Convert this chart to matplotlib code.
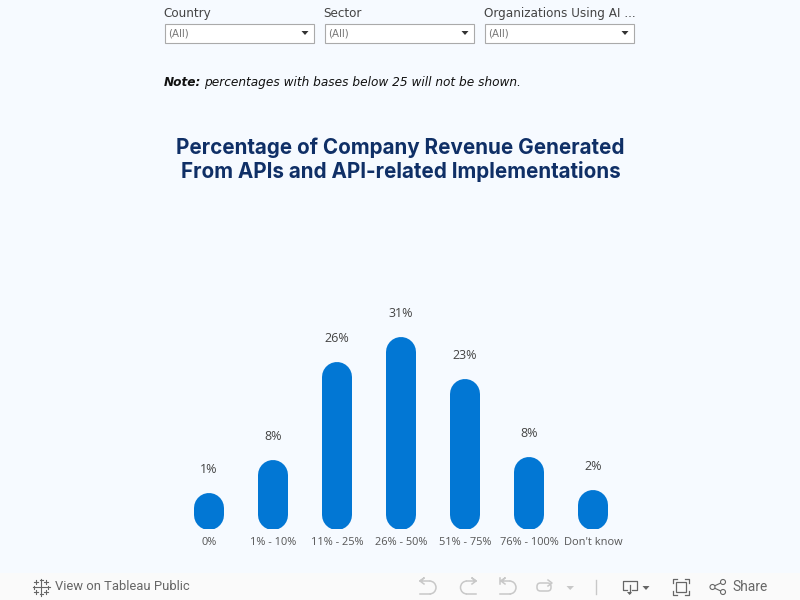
import matplotlib
matplotlib.use("Agg")
import matplotlib.pyplot as plt
from matplotlib.patches import Rectangle, Polygon, Arc, Circle, FancyBboxPatch

categories = ["0%", "1% - 10%", "11% - 25%", "26% - 50%", "51% - 75%", "76% - 100%", "Don't know"]
values = [1.3, 7.5, 26.0, 30.8, 22.8, 8.1, 1.9]
filter_names = ["Country", "Sector", "Organizations Using AI ..."]
filter_values = ["(All)", "(All)", "(All)"]

BG = "#f6faff"
BAR = "#0277d4"
GREY = "#555555"
ICON = "#c8c8c8"
DARK = "#666666"

fig = plt.figure(figsize=(8, 6), dpi=100, facecolor=BG)

# page furniture, drawn in pixel coordinates
page = fig.add_axes([0, 0, 1, 1])
page.set_xlim(0, 800)
page.set_ylim(600, 0)
page.axis("off")

for i, name in enumerate(filter_names):
    x = 165 + 160 * i
    page.text(x - 1.5, 17, name, fontsize=8.65, color="#444444", va="baseline", family="DejaVu Sans")
    page.add_patch(Rectangle((x, 23.5), 149, 19, fc="white", ec="#aaaaaa", lw=0.8))
    page.text(x + 3.5, 33.5, filter_values[i], fontsize=7.4, color="#777777", va="center", family="DejaVu Sans")
    page.add_patch(Polygon([(x + 136.5, 31), (x + 143.5, 31), (x + 140, 35)], fc="#333333", ec="none"))

page.text(164, 86, "Note:", fontsize=8.7, style="italic", weight="bold", color="#111111", va="baseline", family="DejaVu Sans")
page.text(204.5, 86, "percentages with bases below 25 will not be shown.", fontsize=8.7, style="italic",
          color="#111111", va="baseline", family="DejaVu Sans")

page.text(400.5, 148, "Percentage of Company Revenue Generated", fontsize=14.85, weight="bold", color="#0f2f66",
          ha="center", va="center", family="Inter")
page.text(400.5, 172, "From APIs and API-related Implementations", fontsize=14.85, weight="bold", color="#0f2f66",
          ha="center", va="center", family="Inter")

# toolbar
page.add_patch(Rectangle((0, 573), 800, 27, fc="#fafafa", ec="none"))
logo_parts = [(0, 0, 4.5), (-7, 0, 1.5), (7, 0, 1.5), (0, -7, 1.5), (0, 7, 1.5),
              (-5, -5, 2), (5, -5, 2), (-5, 5, 2), (5, 5, 2)]
for dx, dy, r in logo_parts:
    page.plot([41 + dx - r, 41 + dx + r], [587 + dy, 587 + dy], color=DARK, lw=0.8)
    page.plot([41 + dx, 41 + dx], [587 + dy - r, 587 + dy + r], color=DARK, lw=0.8)
page.text(55, 587, "View on Tableau Public", fontsize=9.4, color=DARK, va="center", family="Roboto")
page.text(732, 587, "Share", fontsize=9.9, color=DARK, va="center", family="Roboto")

# undo, redo, revert, refresh
page.add_patch(Arc((429.5, 587.5), 13, 13, theta1=-90, theta2=90, color=ICON, lw=1.1))
page.plot([429.5, 420, 424, 420, 424], [581, 581, 578, 581, 584], color=ICON, lw=1.1)
page.plot([420, 429.5], [594, 594], color=ICON, lw=1.1)
page.add_patch(Arc((467, 587.5), 13, 13, theta1=90, theta2=270, color=ICON, lw=1.1))
page.plot([467, 476, 472, 476, 472], [581, 581, 578, 581, 584], color=ICON, lw=1.1)
page.plot([467, 476], [594, 594], color=ICON, lw=1.1)
page.add_patch(Arc((509.5, 587.5), 13, 13, theta1=-90, theta2=90, color=ICON, lw=1.1))
page.plot([509.5, 501, 505, 501, 505], [581, 581, 578, 581, 584], color=ICON, lw=1.1)
page.plot([500, 509.5], [594, 594], color=ICON, lw=1.1)
page.plot([500, 500], [578, 584], color=ICON, lw=1.1)
page.add_patch(FancyBboxPatch((537, 583), 14, 8, boxstyle="round,pad=0,rounding_size=3.5", fc="none", ec=ICON, lw=1.1))
page.plot([548, 552, 548], [580, 583, 586], color=ICON, lw=1.1)
page.add_patch(Polygon([(566.5, 586), (574, 586), (570.2, 590)], fc=ICON, ec="none"))
page.plot([596, 596], [580, 594], color=ICON, lw=1)

# download, fullscreen, share
page.plot([627, 622.5, 622.5, 636.5, 636.5, 632], [589.5, 589.5, 580.5, 580.5, 589.5, 589.5], color=DARK, lw=0.9)
page.plot([629.5, 629.5], [585, 593], color=DARK, lw=0.9)
page.add_patch(Polygon([(627, 592), (632, 592), (629.5, 595)], fc=DARK, ec="none"))
page.add_patch(Polygon([(642.5, 586), (649.5, 586), (646, 590)], fc=DARK, ec="none"))
page.add_patch(Rectangle((676, 582), 10, 10, fc="none", ec=DARK, lw=0.9))
for x0, y0, sx, sy in [(673, 579, 1, 1), (689, 579, -1, 1), (673, 595, 1, -1), (689, 595, -1, -1)]:
    page.plot([x0 + 4 * sx, x0, x0], [y0, y0, y0 + 4 * sy], color=DARK, lw=0.9)
page.plot([723, 712, 723], [582, 587, 592], color=DARK, lw=0.8)
for cx, cy in [(723, 582), (712.5, 587), (723, 592)]:
    page.add_patch(Circle((cx, cy), 2.5, fc="#fafafa", ec=DARK, lw=0.8, zorder=3))

# chart: baseline at pixel 529, zero 14px above it, 5.3px per percent
ax = fig.add_axes([177 / 800, (600 - 529) / 600, 448 / 800, 229 / 600], facecolor="none")
ax.set_xlim(-0.5, 6.5)
ax.set_ylim(-14 / 5.3, 215 / 5.3)
for i, v in enumerate(values):
    ax.plot([i, i], [0, v], color=BAR, lw=21.6, solid_capstyle="round")
    ax.annotate(f"{round(v)}%", (i, v), xytext=(0, 27.6), textcoords="offset points", ha="center", va="center",
                fontsize=9, color="#444444", family="Open Sans", annotation_clip=False)
ax.set_xticks(range(len(categories)))
ax.set_xticklabels(categories, fontsize=7.9, color=GREY, family="Open Sans")
ax.tick_params(axis="x", length=0, pad=6)
ax.set_yticks([])
for s in ax.spines.values():
    s.set_visible(False)

fig.savefig("out.png", dpi=100, facecolor=BG)
